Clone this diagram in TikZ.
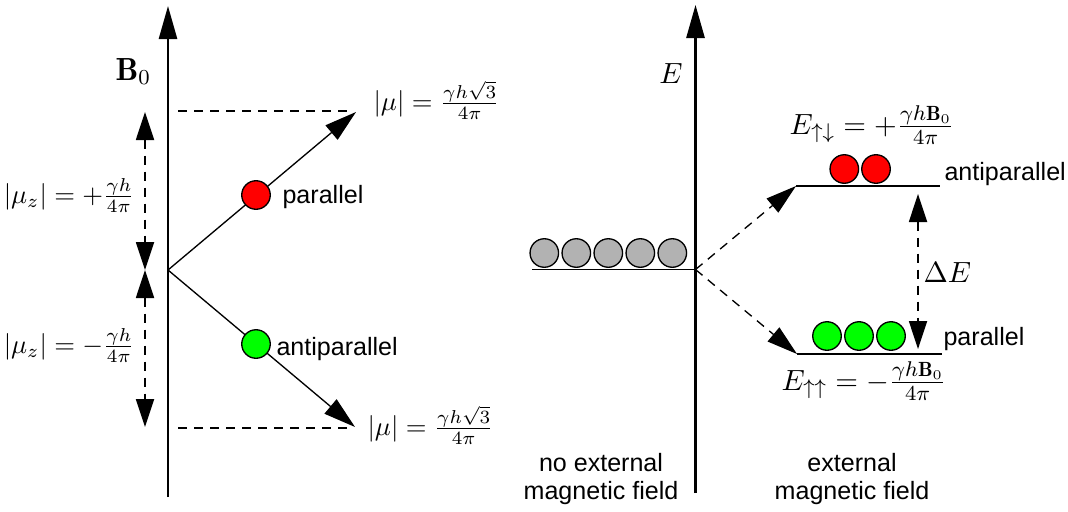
\documentclass[tikz,border=0pt]{standalone}
\usepackage{fontspec}
\setsansfont{Liberation Sans}
\usetikzlibrary{arrows.meta}
\begin{document}
\begin{tikzpicture}[x=0.375pt,y=-0.375pt,
  thinline/.style={line width=0.5pt},
  axis/.style={line width=0.9pt,-{Triangle[length=12.4pt,width=6.8pt]}},
  bigtip/.style={-{Triangle[length=12pt,width=7pt]}},
  medtip/.style={-{Triangle[length=11.5pt,width=6.8pt]}},
  dtip/.style={{Triangle[length=10.5pt,width=6.8pt]}-{Triangle[length=10.5pt,width=6.8pt]}},
  dashline/.style={dash pattern=on 3.4pt off 2.6pt},
  ball/.style={circle,draw,line width=0.5pt,minimum size=10.7pt,inner sep=0pt},
  lab/.style={font=\sffamily\fontsize{9.4}{10.6}\selectfont,inner sep=0pt},
  mathlab/.style={inner sep=0pt},
  bigmath/.style={inner sep=0pt,font=\fontsize{11}{13}\selectfont}]
\useasboundingbox (0,0) rectangle (1068,511);

% ---------- left part ----------
\coordinate (Lbot) at (168,497);
\coordinate (Ltop) at (168,6);
\draw[axis] (Lbot) -- (Ltop);
\node[mathlab, anchor=base west, font=\large] (B) at (115,80) {$\mathbf{B}_0$};

\coordinate (O) at (168,270);
\coordinate (P) at (356,112);
\coordinate (A) at (355,427);
\draw[thinline, bigtip] (O) -- (P);
\draw[thinline, bigtip] (O) -- (A);
\node[ball, fill=red] (rb) at (256,195) {};
\node[ball, fill=green] (gb) at (256,344) {};
\node[lab, anchor=base west] (par) at (282,203) {parallel};
\node[lab, anchor=base west] (apar) at (276,355) {antiparallel};

\coordinate (h1a) at (178,111); \coordinate (h1b) at (353,111);
\coordinate (h2a) at (178,428); \coordinate (h2b) at (353,428);
\draw[thinline, dashline] (h1a) -- (h1b);
\draw[thinline, dashline] (h2a) -- (h2b);
\node[mathlab, anchor=base west] (mu1) at (373,110) {$|\mu| = \frac{\gamma h\sqrt{3}}{4\pi}$};
\node[mathlab, anchor=base west] (mu2) at (367,435) {$|\mu| = \frac{\gamma h\sqrt{3}}{4\pi}$};

\coordinate (v1) at (145,112); \coordinate (v2) at (145,270); \coordinate (v3) at (145,427);
\draw[thinline, dashline, dtip] (v1) -- (v2);
\draw[thinline, dashline, dtip] (v2) -- (v3);
\node[mathlab, anchor=base east] (muz1) at (135,203) {$|\mu_z| = +\frac{\gamma h}{4\pi}$};
\node[mathlab, anchor=base east] (muz2) at (135,353) {$|\mu_z| = -\frac{\gamma h}{4\pi}$};

% ---------- right part ----------
\coordinate (Rbot) at (695.5,493);
\coordinate (Rtop) at (695.5,5);
\draw[axis] (Rbot) -- (Rtop);
\node[bigmath, anchor=base] (E) at (671,83) {$E$};

\coordinate (m1) at (532,269.5);
\coordinate (O2) at (695.5,269.5);
\draw[thinline] (m1) -- (O2);
\foreach \i/\x in {1/544.3,2/576.3,3/608.3,4/640.3,5/672.3}
  \node[ball, fill=gray!60] (g\i) at (\x,253) {};

\coordinate (u1) at (796,186); \coordinate (u2) at (940,186);
\coordinate (l1) at (797,354); \coordinate (l2) at (942,354);
\draw[thinline] (u1) -- (u2);
\draw[thinline] (l1) -- (l2);
\draw[thinline, dashline, medtip] (O2) -- (u1);
\draw[thinline, dashline, medtip] (O2) -- (l1);

\node[ball, fill=red] (r1) at (844.3,169) {};
\node[ball, fill=red] (r2) at (876,169) {};
\node[ball, fill=green] (q1) at (827,336) {};
\node[ball, fill=green] (q2) at (859,336) {};
\node[ball, fill=green] (q3) at (891,336) {};

\node[lab, anchor=base west] (apar2) at (944,180) {antiparallel};
\node[lab, anchor=base west] (par2) at (943,345) {parallel};

\coordinate (d1) at (918,194); \coordinate (d2) at (918,349);
\draw[thinline, dashline, dtip] (d1) -- (d2);
\node[bigmath, anchor=base west] (dE) at (923,282) {$\Delta E$};

\node[bigmath, anchor=base] (Eud) at (872,134) {$E_{\uparrow\downarrow} = +\frac{\gamma h\mathbf{B}_0}{4\pi}$};
\node[bigmath, anchor=base] (Euu) at (864,390) {$E_{\uparrow\uparrow} = -\frac{\gamma h\mathbf{B}_0}{4\pi}$};

\node[lab, align=center] (noext) at (601,479) {no external\\magnetic field};
\node[lab, align=center] (ext) at (852,479) {external\\magnetic field};
\end{tikzpicture}
\end{document}
